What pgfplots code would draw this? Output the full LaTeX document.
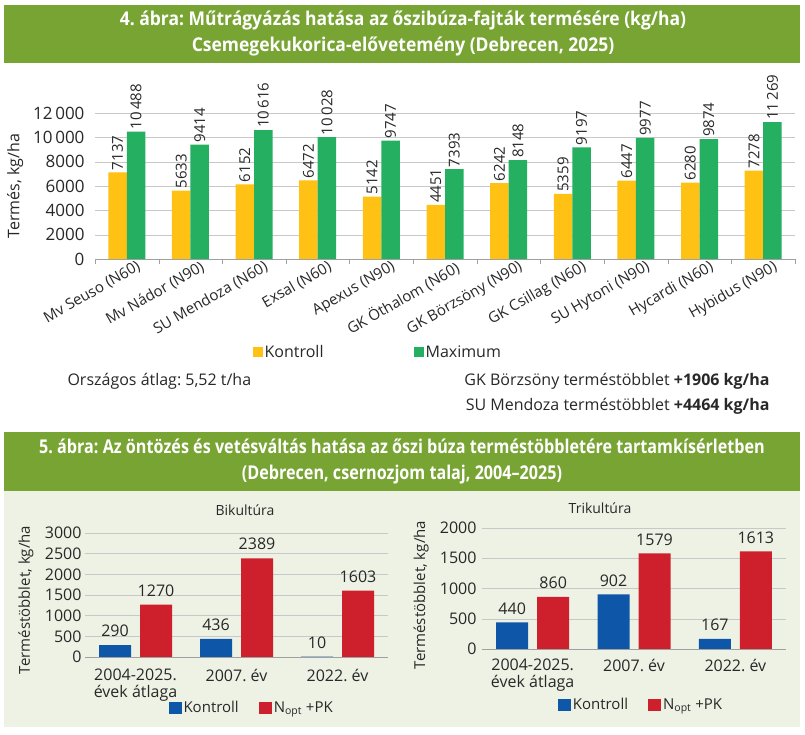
\documentclass[border=0pt]{standalone}
\usepackage{fontspec}
\setmainfont{Open Sans}
\newfontfamily\condA[FakeStretch=0.92]{Open Sans}
\newfontfamily\condB[FakeStretch=0.85]{Open Sans}
\usepackage{pgfplots}
\pgfplotsset{compat=1.18}
\definecolor{bannergreen}{RGB}{120,164,52}
\definecolor{panelbg}{RGB}{238,242,229}
\definecolor{cyel}{RGB}{255,193,20}
\definecolor{cgrn}{RGB}{36,176,96}
\definecolor{cblue}{RGB}{14,86,168}
\definecolor{cred}{RGB}{206,32,44}
\definecolor{gridc}{RGB}{200,200,200}
\definecolor{axc}{RGB}{160,160,160}
\definecolor{txt}{RGB}{40,40,40}
\newcommand{\fs}[1]{\fontsize{#1}{#1}\selectfont}
\frenchspacing
\begin{document}
\frenchspacing
\begin{tikzpicture}
\useasboundingbox (0,0) rectangle (805pt,735pt);
\fill[white] (0,0) rectangle (805pt,735pt);
% banners
\fill[bannergreen] (4pt,672pt) rectangle (800pt,730pt);
\node[white,font=\condA\bfseries\fontsize{19}{26}\selectfont,align=center] at (403pt,701pt)
  {4. ábra: Műtrágyázás hatása az őszibúza-fajták termésére (kg/ha)\\Csemegekukorica-elővetemény (Debrecen, 2025)};
\fill[panelbg] (4pt,8pt) rectangle (800pt,244pt);
\fill[bannergreen] (4pt,244pt) rectangle (800pt,303pt);
\node[white,font=\condB\bfseries\fontsize{19}{26}\selectfont,align=center] at (402pt,273pt)
  {5. ábra: Az öntözés és vetésváltás hatása az őszi búza terméstöbbletére tartamkísérletben\\(Debrecen, csernozjom talaj, 2004–2025)};
% texts
\node[anchor=west,font=\fs{16},text=txt] at (64pt,354pt) {Országos átlag: 5,52 t/ha};
\node[anchor=east,font=\fs{16},text=txt] at (773pt,354pt) {GK Börzsöny terméstöbblet \textbf{+1906 kg/ha}};
\node[anchor=east,font=\fs{16},text=txt] at (773pt,329pt) {SU Mendoza terméstöbblet \textbf{+4464 kg/ha}};
\node[font=\fs{14},text=txt] at (245pt,225pt) {Bikultúra};
\node[font=\fs{14},text=txt] at (600pt,227pt) {Trikultúra};

% top chart
\begin{axis}[
  at={(95pt,476pt)}, anchor=south west, scale only axis,
  width=700pt, height=145.7pt,
  ybar, bar width=18.5pt,
  ymin=0, ymax=12000, xmin=-0.5, xmax=10.5,
  scaled y ticks=false,
  ytick={0,2000,...,12000},
  yticklabels={0,2000,4000,6000,8000,10\,000,12\,000},
  yticklabel style={font=\fs{17},text=txt,xshift=-7pt},
  ymajorgrids, grid style={gridc},
  axis x line*=bottom, axis y line*=left,
  y axis line style={draw=none}, x axis line style={axc},
  ytick style={draw=none},
  xtick={0,...,10},
  xticklabels={Mv Seuso (N60),Mv Nádor (N90),SU Mendoza (N60),Exsal (N60),Apexus (N90),GK Öthalom (N60),GK Börzsöny (N90),GK Csillag (N60),SU Hytoni (N90),Hycardi (N60),Hybidus (N90)},
  xticklabel style={font=\fs{15},text=txt,rotate=30,anchor=north east,xshift=13pt,yshift=2pt},
  major x tick style={draw=none},
  minor xtick={-0.5,0.5,...,10.5}, minor x tick style={axc}, xtick align=outside, minor tick length=5pt,
  clip=false,
  nodes near coords, point meta=explicit symbolic,
  nodes near coords style={rotate=90,anchor=west,font=\fs{15},text=txt,inner sep=2pt},
  ylabel={Termés, kg/ha},
  every axis y label/.style={at={(axis description cs:-0.114,0.5)},rotate=90,anchor=center,font=\fs{16},text=txt},
  legend style={at={(axis description cs:0.404,-0.64)},anchor=center,draw=none,fill=none,
     legend columns=2,font=\fs{16},text=txt,
     /tikz/every even column/.append style={column sep=88pt}},
  legend image code/.code={\fill[#1] (0pt,-5pt) rectangle (10pt,5pt);},
]
\addplot[fill=cyel,draw=none,bar shift=-9.25pt] coordinates {
 (0,7137)[7137] (1,5633)[5633] (2,6152)[6152] (3,6472)[6472] (4,5142)[5142] (5,4451)[4451]
 (6,6242)[6242] (7,5359)[5359] (8,6447)[6447] (9,6280)[6280] (10,7278)[7278]};
\addplot[fill=cgrn,draw=none,bar shift=9.25pt] coordinates {
 (0,10488)[10\,488] (1,9414)[9414] (2,10616)[10\,616] (3,10028)[10\,028] (4,9747)[9747] (5,7393)[7393]
 (6,8148)[8148] (7,9197)[9197] (8,9977)[9977] (9,9874)[9874] (10,11269)[11\,269]};
\legend{Kontroll,Maximum}
\end{axis}

% Bikultura
\begin{axis}[
  at={(85pt,78pt)}, anchor=south west, scale only axis,
  width=303pt, height=124pt,
  ybar, bar width=32pt,
  ymin=0, ymax=3000, xmin=-0.5, xmax=2.5,
  scaled y ticks=false,
  ytick={0,500,...,3000},
  yticklabels={0,500,1000,1500,2000,2500,3000},
  yticklabel style={font=\fs{16},text=txt},
  ymajorgrids, grid style={gridc},
  axis x line*=bottom, axis y line*=left,
  y axis line style={draw=none}, x axis line style={axc},
  ytick style={draw=none}, xtick style={draw=none},
  xtick={0,1,2},
  xticklabels={{2004-2025.\\évek átlaga},{2007. év},{2022. év}},
  xticklabel style={font=\fontsize{16}{17}\selectfont,text=txt,align=center,yshift=-4pt},
  clip=false,
  nodes near coords, point meta=explicit symbolic,
  nodes near coords style={anchor=south,font=\fs{16},text=txt,inner sep=0pt,yshift=8pt},
  ylabel={Terméstöbblet, kg/ha},
  every axis y label/.style={at={(axis description cs:-0.195,0.46)},rotate=90,anchor=center,font=\fs{15},text=txt},
  legend style={at={(axis description cs:0.55,-0.411)},anchor=center,draw=none,fill=none,
     legend columns=2,font=\fs{15},text=txt,
     /tikz/every even column/.append style={column sep=18pt}},
  legend image code/.code={\fill[#1] (0pt,-6pt) rectangle (13pt,6pt);},
]
\addplot[fill=cblue,draw=none,bar shift=-20.5pt] coordinates {(0,290)[290] (1,436)[436] (2,10)[10]};
\addplot[fill=cred,draw=none,bar shift=20.5pt] coordinates {(0,1270)[1270] (1,2389)[2389] (2,1603)[1603]};
\legend{Kontroll,N\textsubscript{opt} +PK}
\end{axis}

% Trikultura
\begin{axis}[
  at={(482pt,86pt)}, anchor=south west, scale only axis,
  width=304pt, height=121pt,
  ybar, bar width=32pt,
  ymin=0, ymax=2000, xmin=-0.5, xmax=2.5,
  scaled y ticks=false,
  ytick={0,500,...,2000},
  yticklabels={0,500,1000,1500,2000},
  yticklabel style={font=\fs{16},text=txt,xshift=-2pt},
  ymajorgrids, grid style={gridc},
  axis x line*=bottom, axis y line*=left,
  y axis line style={draw=none}, x axis line style={axc},
  ytick style={draw=none}, xtick style={draw=none},
  xtick={0,1,2},
  xticklabels={{2004-2025.\\évek átlaga},{2007. év},{2022. év}},
  xticklabel style={font=\fontsize{16}{17}\selectfont,text=txt,align=center,yshift=-2pt},
  clip=false,
  nodes near coords, point meta=explicit symbolic,
  nodes near coords style={anchor=south,font=\fs{16},text=txt,inner sep=0pt,yshift=8pt},
  ylabel={Terméstöbblet, kg/ha},
  every axis y label/.style={at={(axis description cs:-0.2,0.446)},rotate=90,anchor=center,font=\fs{15},text=txt},
  legend style={at={(axis description cs:0.523,-0.463)},anchor=center,draw=none,fill=none,
     legend columns=2,font=\fs{15},text=txt,
     /tikz/every even column/.append style={column sep=18pt}},
  legend image code/.code={\fill[#1] (0pt,-6pt) rectangle (13pt,6pt);},
]
\addplot[fill=cblue,draw=none,bar shift=-20.5pt] coordinates {(0,440)[440] (1,902)[902] (2,167)[167]};
\addplot[fill=cred,draw=none,bar shift=20.5pt] coordinates {(0,860)[860] (1,1579)[1579] (2,1613)[1613]};
\legend{Kontroll,N\textsubscript{opt} +PK}
\end{axis}
\end{tikzpicture}
\end{document}
